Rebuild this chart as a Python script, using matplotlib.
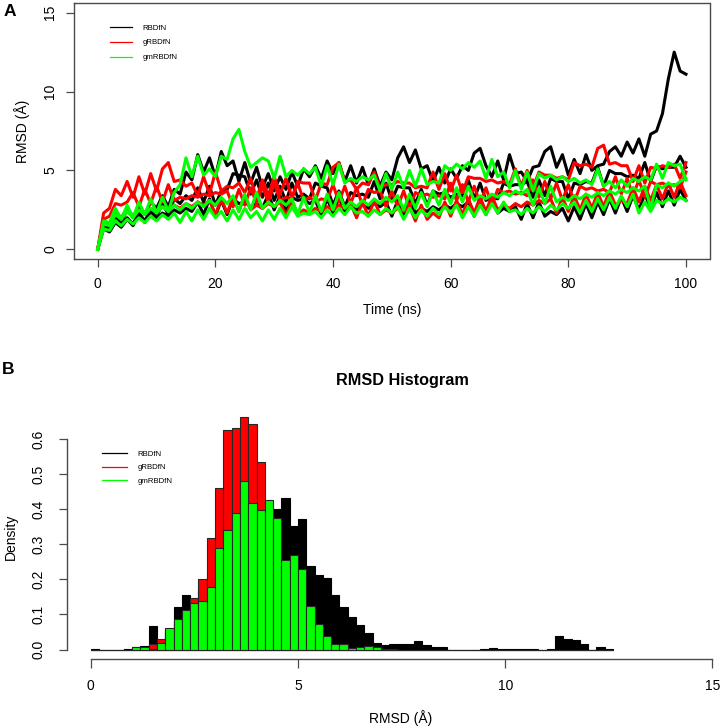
import numpy as np
import matplotlib
matplotlib.use("Agg")
import matplotlib.pyplot as plt
from matplotlib.lines import Line2D

plt.rcParams['font.family'] = ['Liberation Sans', 'DejaVu Sans']

W, H = 723, 728

# ---- panel A: RMSD vs time, 3 replicas per system (1 ns steps)
time_ns = np.arange(0, 101)

rbd_rep1 = [0.0,
            1.6, 1.3, 2.1, 1.7, 2.5, 2.0, 2.8, 2.2, 3.0, 2.6,
            3.4, 2.7, 3.8, 3.5, 4.9, 4.4, 6.0, 4.9, 5.8, 4.6,
            6.2, 5.3, 5.6, 4.3, 5.5, 4.2, 5.2, 3.9, 4.8, 3.7,
            4.6, 3.8, 4.9, 4.0, 5.1, 4.6, 5.3, 4.5, 5.6, 4.8,
            5.5, 4.3, 5.3, 4.2, 5.2, 4.1, 5.1, 4.0, 4.9, 4.4,
            5.8, 6.5, 5.5, 6.3, 5.1, 5.3, 4.3, 5.2, 4.2, 5.1,
            4.5, 5.3, 5.0, 6.1, 6.4, 5.3, 4.6, 5.6, 4.4, 6.0,
            4.8, 4.9, 4.3, 5.2, 5.3, 6.2, 6.5, 5.2, 6.0, 4.7,
            5.7, 4.8, 6.0, 5.0, 5.3, 5.4, 6.2, 6.5, 5.9, 6.8,
            6.1, 7.0, 5.9, 7.3, 7.5, 8.6, 10.8, 12.5, 11.3, 11.1]
rbd_rep2 = [0.0,
            1.5, 1.2, 1.8, 1.5, 2.0, 1.6, 2.3, 1.8, 2.5, 2.1,
            2.9, 2.2, 3.2, 2.9, 3.4, 3.1, 3.9, 3.0, 4.0, 2.8,
            3.7, 3.8, 4.8, 4.7, 4.6, 3.5, 4.4, 3.3, 4.2, 3.1,
            4.0, 3.0, 4.2, 3.3, 3.5, 3.2, 4.2, 4.0, 3.9, 2.8,
            3.7, 2.7, 3.6, 3.4, 3.5, 3.3, 4.3, 3.2, 4.2, 3.1,
            4.0, 3.9, 3.9, 2.9, 3.8, 2.8, 3.7, 3.5, 3.6, 3.3,
            3.5, 3.4, 4.4, 3.2, 4.2, 3.1, 3.3, 3.2, 4.2, 4.0,
            4.1, 4.1, 4.3, 3.3, 4.4, 3.4, 4.5, 4.3, 4.3, 3.2,
            4.2, 4.1, 4.3, 4.2, 5.2, 4.0, 5.0, 4.8, 4.8, 4.6,
            4.7, 4.5, 5.5, 4.3, 5.3, 5.1, 5.2, 5.2, 5.9, 5.2]
rbd_rep3 = [0.0,
            1.3, 1.1, 1.7, 1.4, 1.9, 1.5, 2.3, 1.7, 2.4, 2.0,
            2.3, 2.1, 2.5, 2.3, 2.6, 2.4, 3.0, 2.2, 3.2, 2.1,
            3.1, 2.2, 3.2, 2.9, 3.0, 2.7, 2.9, 2.6, 3.5, 2.5,
            3.4, 2.4, 3.3, 3.1, 3.2, 2.9, 3.1, 2.2, 3.2, 2.3,
            3.3, 2.4, 2.7, 2.5, 2.8, 2.6, 2.9, 2.7, 3.0, 2.1,
            3.1, 2.2, 3.2, 2.3, 2.6, 2.4, 2.7, 2.5, 2.8, 2.6,
            2.9, 2.7, 3.0, 2.1, 3.1, 2.2, 3.2, 2.3, 2.6, 2.4,
            2.7, 1.9, 2.9, 2.0, 3.0, 2.1, 2.4, 2.2, 2.6, 1.8,
            2.7, 1.9, 2.9, 2.0, 3.0, 2.2, 3.2, 2.3, 3.3, 2.4,
            3.4, 2.5, 3.5, 2.6, 3.6, 2.7, 3.7, 2.8, 3.8, 3.1]

grbd_rep1 = [0.0,
             2.3, 2.6, 3.8, 3.4, 4.3, 3.3, 4.6, 3.5, 4.8, 3.7,
             5.1, 5.5, 4.3, 4.4, 4.0, 4.2, 3.4, 4.6, 3.5, 4.9,
             3.7, 4.0, 3.9, 4.2, 3.6, 4.5, 3.2, 4.4, 3.4, 4.6,
             3.5, 4.5, 3.3, 4.3, 4.2, 4.2, 3.1, 4.2, 4.1, 5.2,
             5.5, 4.3, 4.4, 3.8, 4.2, 4.1, 4.9, 3.9, 4.1, 4.1,
             4.3, 4.2, 4.2, 3.9, 4.0, 3.9, 4.9, 3.8, 4.8, 3.7,
             4.7, 3.6, 4.6, 4.5, 4.5, 4.3, 4.4, 4.2, 4.3, 4.1,
             5.1, 4.0, 5.0, 3.9, 4.9, 4.7, 4.7, 4.5, 4.6, 4.4,
             5.5, 5.3, 5.4, 5.2, 6.4, 6.6, 5.4, 5.5, 5.3, 5.3,
             4.3, 5.3, 4.2, 5.2, 5.1, 5.3, 5.2, 5.4, 4.5, 5.5]
grbd_rep2 = [0.0,
             1.9, 2.1, 2.9, 2.8, 3.0, 3.6, 2.7, 3.8, 2.9, 4.0,
             3.0, 4.1, 3.1, 3.3, 3.2, 3.4, 3.3, 3.5, 3.4, 3.6,
             3.5, 3.7, 2.7, 3.8, 2.8, 3.9, 2.9, 4.0, 3.0, 4.2,
             3.1, 3.3, 3.2, 4.2, 3.1, 3.3, 3.0, 3.2, 3.1, 4.1,
             3.0, 4.0, 2.9, 3.9, 2.8, 3.8, 3.6, 3.7, 2.7, 3.7,
             2.7, 3.7, 2.6, 3.6, 3.4, 3.5, 3.3, 3.4, 3.2, 4.2,
             3.1, 4.1, 3.0, 4.0, 2.9, 3.9, 2.8, 3.8, 3.6, 3.7,
             3.5, 3.6, 3.4, 4.4, 3.3, 4.3, 3.2, 4.2, 3.1, 4.1,
             3.0, 4.0, 3.8, 3.9, 3.7, 3.8, 3.6, 4.6, 3.5, 4.5,
             3.4, 4.4, 3.3, 4.3, 4.1, 4.2, 4.0, 4.1, 3.9, 4.9]
grbd_rep3 = [0.0,
             1.7, 1.6, 2.4, 2.0, 2.6, 2.1, 2.5, 2.3, 2.6, 2.4,
             2.7, 2.5, 2.8, 2.6, 2.9, 2.7, 3.0, 2.8, 3.1, 2.2,
             3.2, 2.3, 3.3, 2.4, 3.4, 2.5, 2.8, 2.6, 2.9, 2.7,
             3.0, 2.1, 3.1, 2.2, 2.5, 2.3, 2.6, 2.4, 2.7, 2.5,
             2.8, 2.6, 2.9, 2.0, 3.0, 2.1, 3.1, 2.2, 2.5, 2.3,
             2.6, 2.4, 2.7, 1.8, 2.8, 1.9, 2.3, 2.0, 3.0, 2.1,
             3.1, 2.2, 3.2, 2.3, 3.3, 2.4, 3.4, 2.5, 2.8, 2.6,
             2.9, 2.7, 3.0, 2.8, 3.1, 2.9, 3.2, 2.3, 3.3, 2.4,
             3.4, 2.5, 3.5, 2.6, 3.6, 2.7, 3.7, 2.8, 3.1, 2.9,
             3.9, 3.0, 4.0, 3.1, 4.1, 3.2, 4.2, 3.3, 4.3, 3.4]

gmrbd_rep1 = [0.0,
              1.8, 1.7, 2.6, 1.9, 2.8, 2.0, 3.0, 2.2, 3.2, 2.3,
              3.3, 2.4, 3.6, 4.1, 5.8, 4.6, 5.9, 4.7, 5.1, 4.6,
              5.9, 5.7, 7.0, 7.6, 6.2, 5.2, 5.5, 5.8, 5.6, 4.5,
              5.9, 4.6, 5.0, 4.7, 5.1, 4.8, 5.2, 4.0, 5.3, 4.1,
              5.4, 4.2, 4.5, 4.3, 4.6, 4.4, 4.7, 3.7, 4.8, 3.8,
              4.9, 3.9, 5.0, 4.0, 5.1, 4.1, 4.3, 4.2, 5.3, 5.0,
              5.4, 5.1, 5.5, 5.2, 5.6, 4.5, 5.7, 4.6, 4.9, 3.9,
              5.0, 3.8, 4.9, 3.7, 4.8, 4.5, 4.7, 4.4, 4.6, 4.3,
              4.5, 4.2, 4.4, 4.1, 5.1, 4.0, 4.3, 3.9, 4.4, 4.0,
              4.5, 4.3, 4.6, 4.4, 5.4, 4.5, 5.5, 5.3, 5.4, 4.4]
gmrbd_rep2 = [0.0,
              1.6, 1.5, 2.2, 1.9, 2.4, 2.0, 2.5, 2.2, 2.6, 2.3,
              2.7, 2.4, 2.8, 2.5, 2.9, 2.6, 3.0, 2.7, 3.1, 2.8,
              3.3, 2.9, 3.4, 2.4, 3.5, 2.5, 3.6, 2.6, 3.0, 2.7,
              3.1, 2.8, 3.2, 2.2, 3.3, 2.3, 3.4, 2.4, 3.5, 2.5,
              3.6, 2.6, 3.0, 2.7, 3.1, 2.8, 3.2, 2.9, 3.3, 3.0,
              3.4, 2.5, 3.5, 2.6, 3.6, 2.7, 3.7, 2.8, 3.8, 2.9,
              3.9, 3.0, 4.0, 3.1, 3.4, 3.2, 3.5, 3.3, 3.6, 3.4,
              3.7, 3.5, 3.8, 2.8, 3.9, 2.9, 4.0, 3.0, 3.3, 3.1,
              3.4, 3.2, 3.5, 3.3, 3.6, 3.4, 3.7, 3.5, 3.8, 3.6,
              3.9, 3.7, 4.0, 2.6, 4.1, 3.9, 4.2, 4.0, 4.3, 4.5]
gmrbd_rep3 = [0.0,
              1.3, 1.2, 1.8, 1.5, 1.9, 1.6, 2.0, 1.7, 2.1, 1.8,
              2.2, 1.9, 2.3, 1.7, 2.4, 1.8, 2.5, 1.9, 2.6, 2.0,
              2.4, 1.8, 2.5, 1.9, 2.6, 2.0, 2.4, 1.8, 2.5, 1.9,
              2.6, 2.0, 2.7, 2.1, 2.3, 2.2, 2.4, 2.0, 2.5, 2.1,
              2.6, 2.2, 2.7, 2.3, 2.4, 2.1, 2.5, 2.2, 2.6, 2.3,
              2.7, 1.9, 2.6, 2.0, 2.5, 2.1, 2.6, 2.2, 2.7, 2.3,
              2.8, 2.0, 2.7, 2.1, 2.8, 2.2, 2.9, 2.3, 3.0, 2.4,
              2.5, 2.2, 2.6, 2.3, 2.7, 2.4, 2.8, 2.5, 2.9, 2.6,
              3.0, 2.3, 3.1, 2.4, 3.2, 2.5, 3.3, 2.6, 3.4, 2.7,
              3.5, 2.3, 3.0, 2.4, 3.1, 2.9, 3.2, 3.0, 3.3, 3.1]

series_names = ['RBDfN', 'gRBDfN', 'gmRBDfN']
series_colors = ['#000000', '#ff0000', '#00ff00']
replicas = [[rbd_rep1, rbd_rep2, rbd_rep3],
            [grbd_rep1, grbd_rep2, grbd_rep3],
            [gmrbd_rep1, gmrbd_rep2, gmrbd_rep3]]

# ---- panel B: density histograms, bins of 0.2 A from 0 to 12.6
bin_left = np.round(np.arange(63) * 0.2, 1)
dens_rbd = [0.002, 0.0, 0.0, 0.0, 0.003, 0.006, 0.011, 0.068, 0.020, 0.050,
            0.120, 0.155, 0.140, 0.170, 0.220, 0.260, 0.300, 0.330, 0.350, 0.370,
            0.380, 0.410, 0.402, 0.431, 0.353, 0.371, 0.238, 0.212, 0.203, 0.155,
            0.121, 0.093, 0.069, 0.047, 0.020, 0.014, 0.015, 0.015, 0.015, 0.025,
            0.012, 0.006, 0.008, 0.0, 0.0, 0.0, 0.0, 0.001, 0.005, 0.002,
            0.002, 0.002, 0.002, 0.001, 0.0, 0.003, 0.038, 0.031, 0.026, 0.015,
            0.0, 0.006, 0.001]
dens_grbd = [0.0, 0.0, 0.0, 0.0, 0.0, 0.004, 0.006, 0.015, 0.030, 0.055,
             0.080, 0.105, 0.146, 0.200, 0.319, 0.460, 0.625, 0.630, 0.664, 0.643,
             0.534, 0.380, 0.280, 0.200, 0.150, 0.100, 0.060, 0.030, 0.015, 0.008,
             0.004, 0.002, 0.0, 0.0, 0.0, 0.0, 0.0, 0.0, 0.0, 0.0,
             0.0, 0.0, 0.0, 0.0, 0.0, 0.0, 0.0, 0.0, 0.0, 0.0,
             0.0, 0.0, 0.0, 0.0, 0.0, 0.0, 0.0, 0.0, 0.0, 0.0,
             0.0, 0.0, 0.0]
dens_gmrbd = [0.0, 0.0, 0.0, 0.0, 0.0, 0.008, 0.007, 0.003, 0.020, 0.061,
              0.087, 0.114, 0.134, 0.138, 0.179, 0.290, 0.340, 0.389, 0.481, 0.417,
              0.398, 0.425, 0.376, 0.255, 0.270, 0.229, 0.123, 0.072, 0.040, 0.016,
              0.016, 0.004, 0.007, 0.011, 0.007, 0.002, 0.002, 0.0, 0.0, 0.0,
              0.0, 0.0, 0.0, 0.0, 0.0, 0.0, 0.0, 0.0, 0.0, 0.0,
              0.0, 0.0, 0.0, 0.0, 0.0, 0.0, 0.0, 0.0, 0.0, 0.0,
              0.0, 0.0, 0.0]
densities = [dens_rbd, dens_grbd, dens_gmrbd]

AXC = '#4a4a4a'


def frame(left, top, right, bottom):
    # pixel box -> figure fraction
    return [left / W, 1 - bottom / H, (right - left) / W, (bottom - top) / H]


fig = plt.figure(figsize=(W / 100, H / 100), dpi=100)

# ---------------- A
axA = fig.add_axes(frame(74.2, 3.2, 709.5, 258.8))
for reps, col in zip(replicas, series_colors):
    for rep in reps:
        axA.plot(time_ns, rep, color=col, lw=2.2, solid_joinstyle='round')
axA.set_xlim(-4, 104)
axA.set_ylim(-0.6, 15.6)
axA.set_xticks([0, 20, 40, 60, 80, 100])
axA.set_yticks([0, 5, 10, 15])
axA.tick_params(axis='x', length=5.8, width=0.9, pad=7.4, labelsize=10, color=AXC)
axA.tick_params(axis='y', length=5.6, width=0.9, pad=6.6, labelsize=10, color=AXC, labelrotation=90)
for lab in axA.get_yticklabels():
    lab.set_va('center')
for sp in axA.spines.values():
    sp.set_color(AXC)
    sp.set_linewidth(1.0)

handles = [Line2D([], [], color=c, lw=0.9) for c in series_colors]
axA.legend(handles, series_names, loc='upper left', bbox_to_anchor=(0.0564, 0.918),
           frameon=False, fontsize=5.6, handlelength=2.8, handletextpad=1.35,
           labelspacing=0.95, borderpad=0, borderaxespad=0)

fig.text(9.5 / W, 1 - 12 / H, 'A', fontsize=12.5, fontweight='bold', ha='center', va='center')
fig.text(22.5 / W, 1 - 131 / H, 'RMSD (Å)', fontsize=10, rotation=90, ha='center', va='center')
fig.text(392 / W, 1 - 310 / H, 'Time (ns)', fontsize=10, ha='center', va='center')

# ---------------- B
axB = fig.add_axes(frame(66.7, 416, 723, 659))
for dens, col in zip(densities, series_colors):
    edge = '#000000' if col == '#000000' else '#262626'
    axB.bar(bin_left, dens, width=0.2, align='edge', color=col, edgecolor=edge, linewidth=0.8)
axB.set_xlim(-0.579, 15.254)
axB.set_ylim(-0.0268, 0.6656)
axB.set_xticks([0, 5, 10, 15])
axB.set_yticks([0.0, 0.1, 0.2, 0.3, 0.4, 0.5, 0.6])
axB.set_yticklabels(['0.0', '0.1', '0.2', '0.3', '0.4', '0.5', '0.6'])
axB.tick_params(axis='x', length=6.2, width=0.9, pad=8.4, labelsize=10, color=AXC)
axB.tick_params(axis='y', length=6.0, width=0.9, pad=9.2, labelsize=10, color=AXC, labelrotation=90)
for lab in axB.get_yticklabels():
    lab.set_va('center')
axB.spines['top'].set_visible(False)
axB.spines['right'].set_visible(False)
axB.spines['left'].set_bounds(0, 0.6)
axB.spines['bottom'].set_bounds(0, 15)
for side in ('left', 'bottom'):
    axB.spines[side].set_color(AXC)
    axB.spines[side].set_linewidth(1.0)

handles = [Line2D([], [], color=c, lw=0.9) for c in series_colors]
axB.legend(handles, series_names, loc='upper left', bbox_to_anchor=(0.0538, 0.858),
           frameon=False, fontsize=5.6, handlelength=3.2, handletextpad=1.4,
           labelspacing=0.75, borderpad=0, borderaxespad=0)

fig.text(8.5 / W, 1 - 369 / H, 'B', fontsize=12.5, fontweight='bold', ha='center', va='center')
fig.text(402 / W, 1 - 380 / H, 'RMSD Histogram', fontsize=11.7, fontweight='bold', ha='center', va='center')
fig.text(11 / W, 1 - 537 / H, 'Density', fontsize=10, rotation=90, ha='center', va='center')
fig.text(401 / W, 1 - 718 / H, 'RMSD (Å)', fontsize=10, ha='center', va='center')

fig.savefig('out.png', dpi=100)
